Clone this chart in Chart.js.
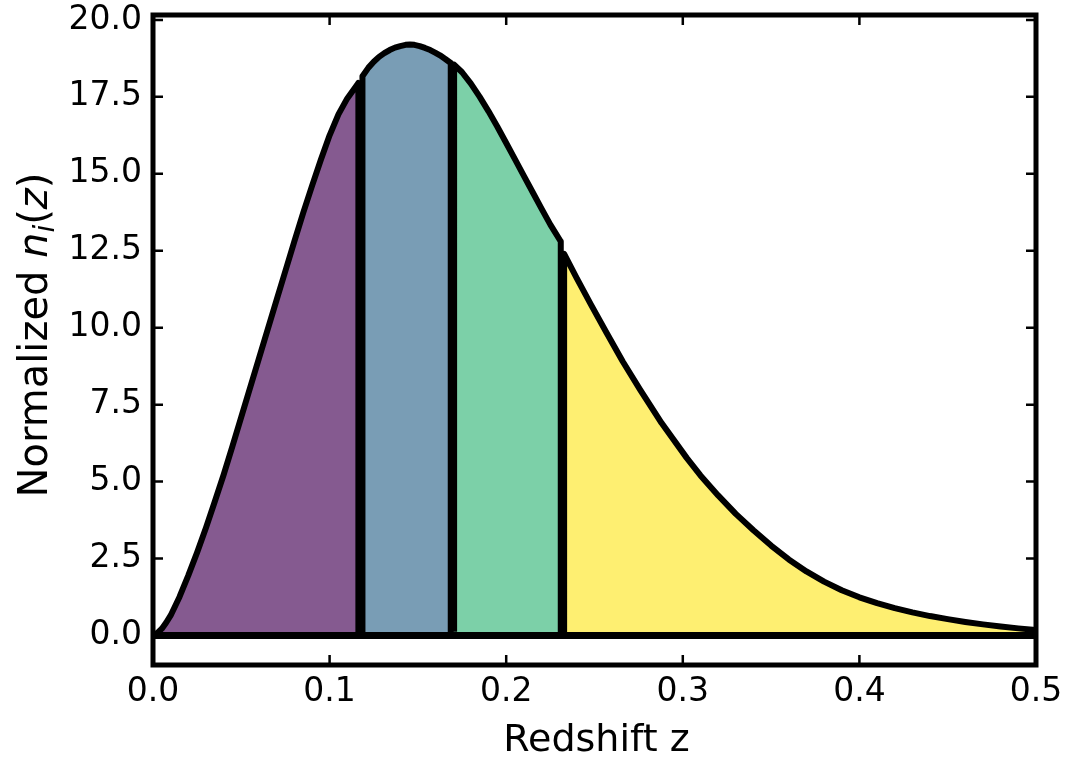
<!DOCTYPE html>
<html>
<head>
<meta charset="utf-8">
<script src="https://cdn.jsdelivr.net/npm/chart.js@4.4.0/dist/chart.umd.min.js"></script>
<style>
html, body { margin: 0; padding: 0; background: #fff; }
#wrap { width: 1067px; height: 757px; }
</style>
</head>
<body>
<div id="wrap"><canvas id="graph_nz"></canvas></div>
<script>
// tomographic bins: top of each n_i(z) shape, first/last point = foot of the bin edge
var bin1Z = [0, 0.0025, 0.005, 0.0075, 0.010, 0.015, 0.020, 0.025, 0.030, 0.035, 0.040, 0.045, 0.050, 0.055, 0.060, 0.065, 0.070, 0.075, 0.080, 0.085, 0.090, 0.095, 0.100, 0.105, 0.110, 0.1163, 0.1163];
var bin1N = [0, 0.08, 0.22, 0.42, 0.65, 1.25, 1.95, 2.7, 3.5, 4.35, 5.22, 6.15, 7.1, 8.05, 9.0, 9.95, 10.9, 11.85, 12.8, 13.72, 14.6, 15.45, 16.25, 16.93, 17.45, 17.95, 0.1];

var bin2Z = [0.1186, 0.1186, 0.122, 0.125, 0.128, 0.131, 0.134, 0.137, 0.140, 0.143, 0.1455, 0.148, 0.151, 0.154, 0.157, 0.160, 0.1625, 0.1655, 0.1686, 0.1686];
var bin2N = [0.1, 18.17, 18.45, 18.64, 18.8, 18.92, 19.02, 19.1, 19.15, 19.19, 19.2, 19.19, 19.15, 19.09, 19.02, 18.93, 18.85, 18.73, 18.6, 0.1];

var bin3Z = [0.1705, 0.1705, 0.175, 0.180, 0.185, 0.190, 0.195, 0.200, 0.205, 0.210, 0.215, 0.220, 0.225, 0.2309, 0.2309];
var bin3N = [0.12, 18.55, 18.3, 17.93, 17.5, 17.03, 16.53, 16.0, 15.47, 14.93, 14.4, 13.87, 13.35, 12.8, 0.06];

var bin4Z = [0.2328, 0.2328, 0.240, 0.248, 0.2569, 0.266, 0.2758, 0.288, 0.3022, 0.310, 0.320, 0.330, 0.340, 0.350, 0.360, 0.370, 0.380, 0.390, 0.400, 0.410, 0.420, 0.430, 0.440, 0.450, 0.460, 0.470, 0.480, 0.490, 0.5];
var bin4N = [0.04, 12.4, 11.6, 10.75, 9.83, 8.9, 7.99, 6.9, 5.77, 5.2, 4.55, 3.95, 3.42, 2.92, 2.47, 2.08, 1.75, 1.47, 1.24, 1.05, 0.89, 0.75, 0.63, 0.53, 0.44, 0.36, 0.29, 0.23, 0.18];

var binColors = ['rgba(68, 1, 84, 0.65)', 'rgba(49, 104, 142, 0.65)', 'rgba(53, 183, 121, 0.65)', 'rgba(253, 231, 37, 0.65)'];

var xTicks = [0.0, 0.1, 0.2, 0.3, 0.4, 0.5];
var yTicks = [0.0, 2.5, 5.0, 7.5, 10.0, 12.5, 15.0, 17.5, 20.0];
var zeroLineZ = [0, 0.5];

var FONT = '"DejaVu Sans", "Liberation Sans", sans-serif';

function toPoints(zs, ns){
	var pts = [];
	for(var i = 0; i < zs.length; i++){
		pts.push({x: zs[i], y: ns[i]});
	}
	return pts;
}

function binDataset(zs, ns, color){
	return {
		data: toPoints(zs, ns),
		showLine: true,
		fill: 'origin',
		backgroundColor: color,
		borderColor: '#000',
		borderWidth: 6,
		borderJoinStyle: 'round',
		tension: 0,
		pointRadius: 0
	};
}

// inward ticks on all four sides, thick frame, axis titles with math-ish parts
var framePlugin = {
	id: 'frame',
	afterDraw: function(chart){
		var ctx = chart.ctx;
		var a = chart.chartArea;
		var xs = chart.scales.x, ys = chart.scales.y;
		ctx.save();
		ctx.strokeStyle = '#000';
		ctx.lineWidth = 2.5;
		ctx.beginPath();
		xTicks.forEach(function(v){
			var px = xs.getPixelForValue(v);
			ctx.moveTo(px, a.bottom); ctx.lineTo(px, a.bottom - 10);
			ctx.moveTo(px, a.top); ctx.lineTo(px, a.top + 10);
		});
		yTicks.forEach(function(v){
			var py = ys.getPixelForValue(v);
			ctx.moveTo(a.left, py); ctx.lineTo(a.left + 10, py);
			ctx.moveTo(a.right, py); ctx.lineTo(a.right - 10, py);
		});
		ctx.stroke();
		ctx.lineWidth = 5;
		ctx.strokeRect(a.left, a.top, a.right - a.left, a.bottom - a.top);

		ctx.fillStyle = '#000';
		ctx.textBaseline = 'alphabetic';
		ctx.textAlign = 'center';
		ctx.font = '38px ' + FONT;
		ctx.fillText('Redshift z', (a.left + a.right) / 2 + 2, 751);

		// y title: Normalized n_i(z)
		var parts = [
			{t: 'Normalized ', f: '40px ' + FONT, dy: 0},
			{t: 'n', f: 'italic 40px ' + FONT, dy: 0},
			{t: 'i', f: 'italic 28px ' + FONT, dy: 7},
			{t: '(', f: '40px ' + FONT, dy: 0},
			{t: 'z', f: 'italic 40px ' + FONT, dy: 0},
			{t: ')', f: '40px ' + FONT, dy: 0}
		];
		var total = 0;
		parts.forEach(function(p){ ctx.font = p.f; p.w = ctx.measureText(p.t).width; total += p.w; });
		ctx.translate(47, 335);
		ctx.rotate(-Math.PI / 2);
		ctx.textAlign = 'left';
		var cx = -total / 2;
		parts.forEach(function(p){
			ctx.font = p.f;
			ctx.fillText(p.t, cx, p.dy);
			cx += p.w;
		});
		ctx.restore();
	}
};

var graph_nz_config = {
	type: 'scatter',
	data: {
		datasets: [
			binDataset(bin1Z, bin1N, binColors[0]),
			binDataset(bin2Z, bin2N, binColors[1]),
			binDataset(bin3Z, bin3N, binColors[2]),
			binDataset(bin4Z, bin4N, binColors[3]),
			{
				data: toPoints(zeroLineZ, [0, 0]),
				showLine: true,
				fill: false,
				borderColor: '#000',
				borderWidth: 7,
				pointRadius: 0
			}
		]
	},
	options: {
		animation: false,
		responsive: true,
		maintainAspectRatio: false,
		layout: {
			padding: {top: 15, right: 31, left: 0, bottom: 0}
		},
		scales: {
			x: {
				type: 'linear',
				min: 0,
				max: 0.5,
				afterBuildTicks: function(scale){
					scale.ticks = xTicks.map(function(v){ return {value: v}; });
				},
				afterFit: function(scale){
					scale.height = 92;
					scale.paddingLeft = 0;
					scale.paddingRight = 0;
				},
				ticks: {
					callback: function(value){ return value.toFixed(1); },
					font: {family: FONT, size: 33},
					color: '#000',
					padding: 8,
					maxRotation: 0,
					autoSkip: false
				},
				grid: {display: false, drawTicks: false},
				border: {display: false}
			},
			y: {
				type: 'linear',
				min: -0.96,
				max: 20.16,
				afterBuildTicks: function(scale){
					scale.ticks = yTicks.map(function(v){ return {value: v}; });
				},
				afterFit: function(scale){
					scale.width = 153;
					scale.paddingTop = 0;
					scale.paddingBottom = 0;
				},
				ticks: {
					callback: function(value){ return value.toFixed(1); },
					font: {family: FONT, size: 33},
					color: '#000',
					padding: 11,
					autoSkip: false
				},
				grid: {display: false, drawTicks: false},
				border: {display: false}
			}
		},
		plugins: {
			legend: {display: false},
			tooltip: {enabled: false},
			filler: {drawTime: 'beforeDatasetsDraw'}
		}
	},
	plugins: [framePlugin]
};

document.addEventListener("DOMContentLoaded", function(){
	new Chart(document.getElementById("graph_nz").getContext('2d'), graph_nz_config);
});
</script>
</body>
</html>
